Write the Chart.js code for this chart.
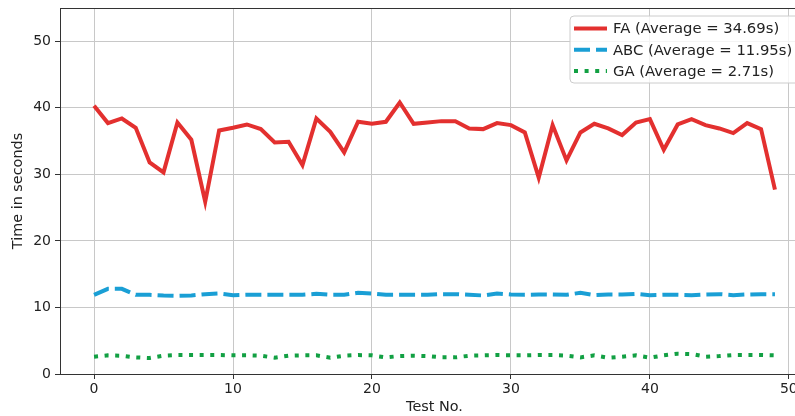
<!DOCTYPE html>
<html>
<head>
<meta charset="utf-8">
<script src="https://cdn.jsdelivr.net/npm/chart.js@4.4.1/dist/chart.umd.min.js"></script>
<style>
  html, body { margin: 0; padding: 0; background: #fff; overflow: hidden; }
  #wrap { width: 795px; height: 416px; overflow: hidden; }
  canvas { display: block; }
</style>
</head>
<body>
<div id="wrap"><canvas id="c" width="812" height="416"></canvas></div>
<script>
// Run time (seconds) of each algorithm over 50 test runs
const testNo = Array.from({ length: 50 }, (_, i) => i);

const faTimes = [40.3, 37.7, 38.4, 37.0, 31.8, 30.3, 37.8, 35.2, 25.9, 36.6,
                 37.0, 37.5, 36.8, 34.8, 34.9, 31.4, 38.4, 36.4, 33.3, 37.9,
                 37.6, 37.9, 40.8, 37.6, 37.8, 38.0, 38.0, 36.9, 36.8, 37.7,
                 37.4, 36.3, 29.5, 37.4, 32.1, 36.3, 37.6, 36.9, 35.9, 37.8,
                 38.3, 33.7, 37.5, 38.3, 37.4, 36.9, 36.2, 37.7, 36.8, 27.7];

const abcTimes = [11.9, 12.8, 12.8, 11.9, 11.9, 11.8, 11.75, 11.8, 12.0, 12.1,
                  11.85, 11.9, 11.9, 11.9, 11.9, 11.9, 12.05, 11.9, 11.9, 12.2,
                  12.1, 11.9, 11.9, 11.9, 11.9, 12.0, 12.0, 11.9, 11.8, 12.1,
                  11.95, 11.9, 11.95, 11.95, 11.9, 12.2, 11.85, 11.95, 11.95, 12.05,
                  11.85, 11.9, 11.9, 11.85, 11.95, 12.0, 11.85, 11.95, 12.0, 12.0];

const gaTimes = [2.6, 2.8, 2.75, 2.5, 2.4, 2.75, 2.85, 2.85, 2.85, 2.85,
                 2.8, 2.8, 2.75, 2.45, 2.75, 2.8, 2.8, 2.45, 2.75, 2.85,
                 2.8, 2.5, 2.7, 2.75, 2.7, 2.5, 2.5, 2.75, 2.8, 2.85,
                 2.8, 2.8, 2.85, 2.85, 2.75, 2.5, 2.8, 2.45, 2.6, 2.8,
                 2.45, 2.8, 3.05, 3.0, 2.6, 2.7, 2.85, 2.85, 2.85, 2.8];

const seriesLabels = ['FA (Average = 34.69s)', 'ABC (Average = 11.95s)', 'GA (Average = 2.71s)'];
const xTicks = [0, 10, 20, 30, 40, 50];
const yTicks = [0, 10, 20, 30, 40, 50];

const FONT = "'DejaVu Sans', sans-serif";
const toPoints = arr => arr.map((v, i) => ({ x: testNo[i], y: v }));

// Frame around the plot area plus a boxed legend in the upper right corner
const framePlugin = {
  id: 'frame',
  afterDraw(chart) {
    const { ctx, chartArea: a } = chart;
    ctx.save();
    ctx.strokeStyle = '#333';
    ctx.lineWidth = 1;
    ctx.strokeRect(a.left + 0.5, a.top + 0.5, a.right - a.left, a.bottom - a.top);

    const bw = 232, bh = 67;
    const bx = a.right - 7 - bw, by = a.top + 8;
    ctx.beginPath();
    ctx.roundRect(bx, by, bw, bh, 4);
    ctx.fillStyle = 'rgba(255,255,255,0.8)';
    ctx.fill();
    ctx.strokeStyle = '#cccccc';
    ctx.stroke();

    ctx.font = '14.8px ' + FONT;
    ctx.textBaseline = 'middle';
    chart.data.datasets.forEach((ds, i) => {
      const y = by + 12.5 + i * 21.3;
      ctx.beginPath();
      ctx.setLineDash(ds.borderDash || []);
      ctx.lineCap = 'butt';
      ctx.lineWidth = ds.borderWidth;
      ctx.strokeStyle = ds.borderColor;
      ctx.moveTo(bx + 4, y);
      ctx.lineTo(bx + 37, y);
      ctx.stroke();
      ctx.setLineDash([]);
      ctx.fillStyle = '#222';
      ctx.fillText(ds.label, bx + 43, y + 1);
    });
    ctx.restore();
  }
};

new Chart(document.getElementById('c'), {
  type: 'line',
  data: {
    datasets: [
      { label: seriesLabels[0], data: toPoints(faTimes), borderColor: '#e3302f',
        borderWidth: 4, pointRadius: 0, tension: 0, fill: false },
      { label: seriesLabels[1], data: toPoints(abcTimes), borderColor: '#1a9fd5',
        borderWidth: 4, borderDash: [16, 6], pointRadius: 0, tension: 0, fill: false },
      { label: seriesLabels[2], data: toPoints(gaTimes), borderColor: '#12a043',
        borderWidth: 4, borderDash: [4, 6.6], pointRadius: 0, tension: 0, fill: false }
    ]
  },
  options: {
    responsive: false,
    animation: false,
    devicePixelRatio: 1,
    layout: { padding: { top: 8, right: 3, left: 0, bottom: 0 } },
    plugins: { legend: { display: false }, tooltip: { enabled: false } },
    scales: {
      x: {
        type: 'linear',
        min: -2.45,
        max: 51.45,
        afterBuildTicks: s => { s.ticks = xTicks.map(v => ({ value: v })); },
        afterFit: s => { s.height = 42; s.paddingLeft = 0; s.paddingRight = 0; },
        grid: { color: '#c8c8c8', lineWidth: 1, tickColor: '#333', tickLength: 5 },
        border: { color: '#333', width: 1 },
        ticks: { color: '#222', font: { family: FONT, size: 14 }, padding: 2, maxRotation: 0 },
        title: { display: true, text: 'Test No.', color: '#222',
                 font: { family: FONT, size: 14.4 }, padding: { top: 0, bottom: 0 } }
      },
      y: {
        min: 0,
        max: 55,
        afterBuildTicks: s => { s.ticks = yTicks.map(v => ({ value: v })); },
        afterFit: s => { s.width = 60; s.paddingTop = 0; s.paddingBottom = 0; },
        grid: { color: '#c8c8c8', lineWidth: 1, tickColor: '#333', tickLength: 5 },
        border: { color: '#333', width: 1 },
        ticks: { color: '#222', font: { family: FONT, size: 14 }, padding: 4 },
        title: { display: true, text: 'Time in seconds', color: '#222',
                 font: { family: FONT, size: 14.4 }, padding: { top: 10, bottom: 0 } }
      }
    }
  },
  plugins: [framePlugin]
});
</script>
</body>
</html>
